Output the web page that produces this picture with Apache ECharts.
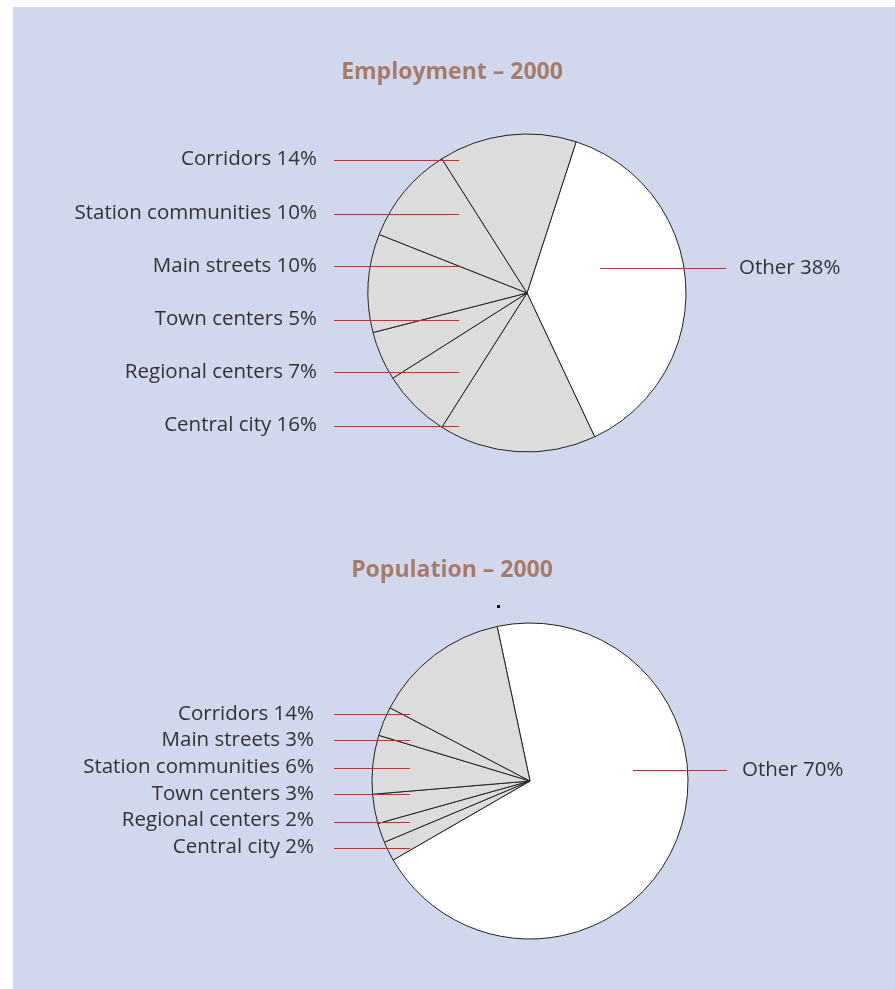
<!DOCTYPE html>
<html>
<head>
<meta charset="utf-8">
<script src="https://cdn.jsdelivr.net/npm/echarts@6/dist/echarts.min.js"></script>
<style>
  html, body { margin: 0; padding: 0; background: #ffffff; }
  #panel { position: absolute; left: 13px; top: 7px; right: 0; bottom: 0; background: #d1d7ec; }
  #chart { position: absolute; left: 0; top: 0; width: 895px; height: 989px; }
</style>
</head>
<body>
<div id="panel"></div>
<div id="chart"></div>
<script>
// Slices listed clockwise, starting with "Other"
const employmentCategories = ['Other', 'Central city', 'Regional centers', 'Town centers', 'Main streets', 'Station communities', 'Corridors'];
const employmentValues = [38, 16, 7, 5, 10, 10, 14];

const populationCategories = ['Other', 'Central city', 'Regional centers', 'Town centers', 'Station communities', 'Main streets', 'Corridors'];
const populationValues = [70, 2, 2, 3, 6, 3, 14];

const titles = ['Employment – 2000', 'Population – 2000'];

const FONT = '"Open Sans", "Noto Sans", sans-serif';
const TEXT = '#333333';
const RED = '#e8202a';
const GREY = '#dcdcdd';

// Geometry of each pie and its label column
const pies = [
  { cx: 527, cy: 293, r: 159, startAngle: 72, titleY: 67,
    step: 53.2, leftTextX: 317, leftLineX0: 334, leftLineX1: 459,
    otherY: 268, otherLineX0: 600, otherLineX1: 726, otherTextX: 739 },
  { cx: 530, cy: 781, r: 158, startAngle: 102, titleY: 565,
    step: 26.7, leftTextX: 314, leftLineX0: 334, leftLineX1: 410,
    otherY: 770, otherLineX0: 633, otherLineX1: 727, otherTextX: 742 }
];

// Keep 1px leader lines on whole pixel rows so they stay crisp
function crispRow(y) {
  return 2 * Math.round(y / 2) + 0.5;
}

function buildData(cats, vals, overlay) {
  return cats.map((c, i) => ({
    name: c,
    value: vals[i],
    itemStyle: { color: overlay ? 'rgba(0,0,0,0)' : (i === 0 ? '#ffffff' : GREY) }
  }));
}

// Filled pie with black slice outlines
function pieSeries(idx, cats, vals) {
  const p = pies[idx];
  return {
    type: 'pie',
    z: 2,
    center: [p.cx, p.cy],
    radius: [0, p.r],
    startAngle: p.startAngle,
    clockwise: true,
    animation: false,
    silent: true,
    itemStyle: { borderColor: '#222222', borderWidth: 1 },
    label: { show: false },
    labelLine: { show: false },
    data: buildData(cats, vals, false)
  };
}

// Same slices drawn transparent on top, carrying the labels and red leader lines
function labelSeries(idx, cats, vals) {
  const p = pies[idx];
  const n = cats.length - 1;
  return {
    type: 'pie',
    z: 5,
    center: [p.cx, p.cy],
    radius: [0, p.r],
    startAngle: p.startAngle,
    clockwise: true,
    animation: false,
    silent: true,
    avoidLabelOverlap: false,
    itemStyle: { borderWidth: 0 },
    label: {
      show: true,
      position: 'outside',
      formatter: '{b} {c}%',
      fontFamily: FONT,
      fontSize: 20.5,
      color: TEXT
    },
    labelLine: { show: true, lineStyle: { color: RED, width: 1 } },
    labelLayout: function (params) {
      const i = params.dataIndex;
      if (i === 0) {
        const yo = crispRow(p.otherY);
        return {
          x: p.otherTextX, y: yo, align: 'left', verticalAlign: 'middle',
          labelLinePoints: [[p.otherLineX1, yo], [p.otherLineX0, yo]]
        };
      }
      // Left column: the last slice clockwise sits at the top
      const slot = n - i;
      const yc = p.cy + (slot - (n - 1) / 2) * p.step;
      const y = crispRow(yc);
      return {
        x: p.leftTextX, y: yc - 0.5, align: 'right', verticalAlign: 'middle',
        labelLinePoints: [[p.leftLineX0, y], [p.leftLineX1, y]]
      };
    },
    data: buildData(cats, vals, true)
  };
}

const chart = echarts.init(document.getElementById('chart'), null, { renderer: 'canvas' });
chart.setOption({
  backgroundColor: 'transparent',
  title: titles.map((t, i) => ({
    text: t,
    left: 447,
    top: pies[i].titleY,
    textAlign: 'center',
    textVerticalAlign: 'middle',
    textStyle: { fontFamily: FONT, fontSize: 23, fontWeight: 'bold', color: '#a67c69' }
  })),
  graphic: [
    { type: 'rect', shape: { x: 497, y: 605, width: 3, height: 3 }, style: { fill: '#111111' } }
  ],
  series: [
    pieSeries(0, employmentCategories, employmentValues),
    pieSeries(1, populationCategories, populationValues),
    labelSeries(0, employmentCategories, employmentValues),
    labelSeries(1, populationCategories, populationValues)
  ]
});
</script>
</body>
</html>
